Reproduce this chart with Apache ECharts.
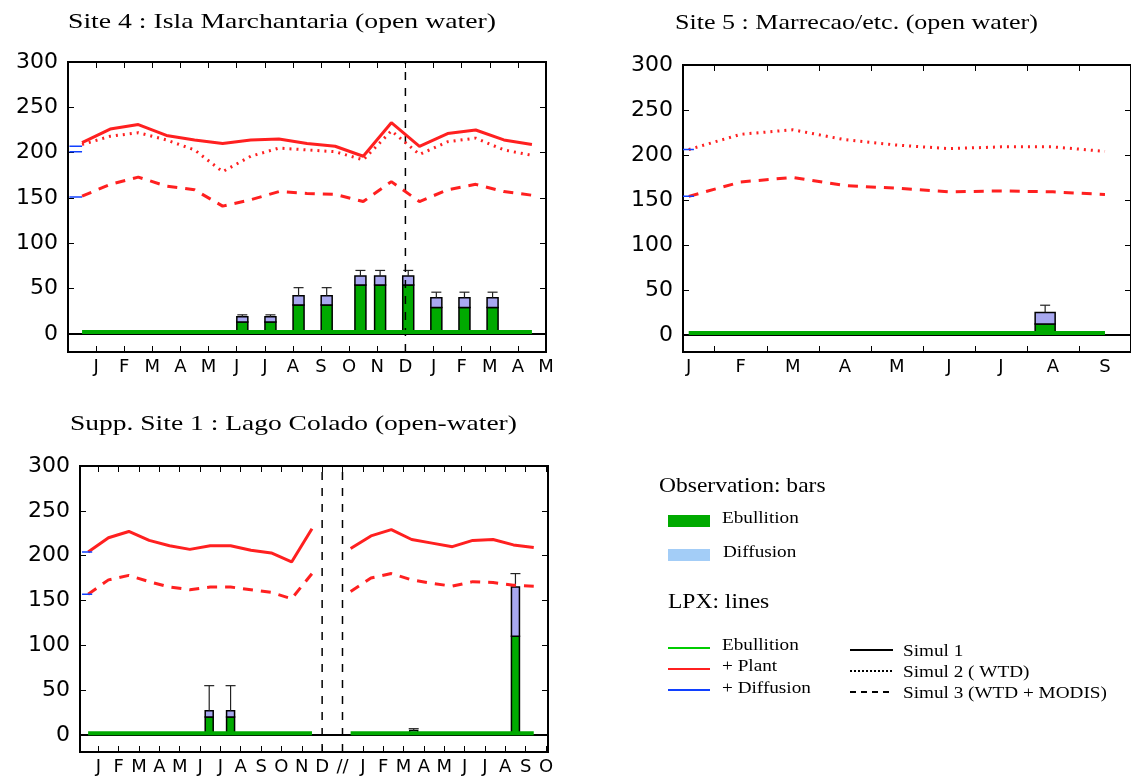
<!DOCTYPE html>
<html lang="en">
<head>
<meta charset="UTF-8">
<title>LPX sites</title>
<script src="https://cdn.jsdelivr.net/npm/echarts@6/dist/echarts.min.js"></script>
<style>html,body{margin:0;padding:0;background:#fff}#main{width:1131px;height:778px}</style>
</head>
<body>
<div id="main"></div>
<script>
// ---- Site 4 ----
var s4Labels = ['J','F','M','A','M','J','J','A','S','O','N','D','J','F','M','A','M'];
var s4X = [0.5,1.5,2.5,3.5,4.5,5.5,6.5,7.5,8.5,9.5,10.5,11.5,12.5,13.5,14.5,15.5,16.5];
var s4Sim1 = [211,226,231,219,214,210,214,215,210,207,196,233,207,221,225,214,209];
var s4Sim2 = [209,218,222,214,203,179,196,205,203,201,192,224,198,212,216,203,197];
var s4Sim3 = [152,165,173,163,159,141,148,157,155,154,146,168,146,159,165,157,153];
var s4BarX = [4.2,5.2,6.2,7.2,8.2,9.2,10.4,11.1,12.1,13.1,14.1,15.1];
var s4Ebul = [1,1,13,13,32,32,54,54,54,29,29,29];
var s4Total = [2,2,19,19,42,42,64,64,64,40,40,40];
var s4Err = [2,2,21,21,51,51,70,70,70,46,46,46];
// ---- Site 5 ----
var s5Labels = ['J','F','M','A','M','J','J','A','S'];
var s5X = [0.5,1.5,2.5,3.5,4.5,5.5,6.5,7.5,8.5];
var s5Sim2 = [206,223,228,217,211,207,209,209,204];
var s5Sim3 = [154,170,175,166,163,159,160,159,156];
var s5BarX = [7.35];
var s5Ebul = [12];
var s5Total = [25];
var s5Err = [33];
// ---- Supp site 1 ----
var sbLabels = ['J','F','M','A','M','J','J','A','S','O','N','D','//','J','F','M','A','M','J','J','A','S','O'];
var sbXa = [-0.5,0.5,1.5,2.5,3.5,4.5,5.5,6.5,7.5,8.5,9.5,10.5];
var sbSim1a = [204,220,227,217,211,207,211,211,206,203,193,230];
var sbSim3a = [157,173,178,171,165,162,165,165,162,159,152,180];
var sbXb = [12.4,13.4,14.4,15.4,16.4,17.4,18.4,19.4,20.4,21.4];
var sbSim1b = [208,222,229,218,214,210,217,218,212,209];
var sbSim3b = [160,175,180,173,169,166,171,170,167,166];
var sbBarX = [5.45,6.5,15.5,20.5];
var sbEbul = [20,20,2,110];
var sbTotal = [27,27,5,165];
var sbErr = [55,55,7,180];
var yTicks = [0,50,100,150,200,250,300];

var RED = '#ff2020', GREEN = '#00aa00', BLUE = '#1040ff';
var chart = echarts.init(document.getElementById('main'));

function pairs(xs, ys) { return xs.map(function (x, i) { return [x, ys[i]]; }); }

function barSeries(gi, xs, eb, tot, err, w) {
    var data = xs.map(function (x, i) { return [x, eb[i], tot[i], err[i]]; });
    return {
        type: 'custom', xAxisIndex: gi, yAxisIndex: gi, data: data, z: 3,
        renderItem: function (params, api) {
            var x = api.value(0);
            var p0 = api.coord([x, 0]), p1 = api.coord([x, api.value(1)]),
                p2 = api.coord([x, api.value(2)]), p3 = api.coord([x, api.value(3)]);
            var h = w / 2;
            return { type: 'group', children: [
                { type: 'rect', shape: { x: p0[0] - h, y: p1[1], width: w, height: p0[1] - p1[1] },
                  style: { fill: GREEN, stroke: '#000', lineWidth: 1.5 } },
                { type: 'rect', shape: { x: p0[0] - h, y: p2[1], width: w, height: p1[1] - p2[1] },
                  style: { fill: '#a8a8f0', stroke: '#000', lineWidth: 1.5 } },
                { type: 'line', shape: { x1: p0[0], y1: p2[1], x2: p0[0], y2: p3[1] },
                  style: { stroke: '#222', lineWidth: 1.2 } },
                { type: 'line', shape: { x1: p0[0] - 5, y1: p3[1], x2: p0[0] + 5, y2: p3[1] },
                  style: { stroke: '#222', lineWidth: 1.2 } }
            ] };
        }
    };
}
function line(gi, data, color, type, w) {
    return { type: 'line', xAxisIndex: gi, yAxisIndex: gi, data: data, symbol: 'none', z: 4,
        lineStyle: { color: color, width: w || 3, type: type || 'solid' } };
}
function yAxis(gi, min, pos) {
    return { type: 'value', gridIndex: gi, min: min, max: 300, position: pos || 'left',
        axisLine: { show: false, onZero: false }, splitLine: { show: false },
        axisTick: { show: true, inside: true, length: 6, customValues: yTicks, lineStyle: { color: '#000' } },
        axisLabel: { show: !pos, customValues: yTicks, fontFamily: 'DejaVu Sans', fontSize: 22, color: '#000', margin: 10 } };
}
function xAxis(gi, min, max, ticks, labelPos, labels, pos) {
    return { type: 'value', gridIndex: gi, min: min, max: max, position: pos || 'bottom',
        splitLine: { show: false },
        axisLine: { show: false, onZero: false },
        axisTick: { show: true, inside: true, length: 6, customValues: ticks, lineStyle: { color: '#000' } },
        axisLabel: { show: !pos, customValues: labelPos, fontFamily: 'DejaVu Sans', fontSize: 18, color: '#000', margin: 6,
            formatter: function (v) { return labels[labelPos.indexOf(v)] || ''; } } };
}
var s4Pos = s4Labels.map(function (l, i) { return i + 1; });
var s5Ticks = [1,2,3,4,5,6,7,8];
var s5Pos = s5Labels.map(function (l, i) { return i + 0.5; });
var sbPos = sbLabels.map(function (l, i) { return i; });

function txt(x, y, t, size, sx) {
    return { type: 'text', x: x, y: y, scaleX: sx, style: { text: t, font: size + 'px "Liberation Serif"', fill: '#000' } };
}

var option = {
    animation: false,
    grid: [
        { left: 68, top: 62, width: 478, height: 290, show: true, borderColor: '#000', borderWidth: 2 },
        { left: 683, top: 65, width: 452, height: 287, show: true, borderColor: '#000', borderWidth: 2 },
        { left: 80, top: 466, width: 468, height: 286, show: true, borderColor: '#000', borderWidth: 2 }
    ],
    xAxis: [
        xAxis(0, 0, 17, s4Pos, s4Pos, s4Labels),
        xAxis(1, 0.39, 9.0, s5Ticks, s5Pos, s5Labels),
        xAxis(2, -0.9, 22.1, sbPos, sbPos, sbLabels),
        xAxis(0, 0, 17, s4Pos, s4Pos, s4Labels, 'top'),
        xAxis(1, 0.39, 9.0, s5Ticks, s5Pos, s5Labels, 'top'),
        xAxis(2, -0.9, 22.1, sbPos, sbPos, sbLabels, 'top')
    ],
    yAxis: [yAxis(0, -20), yAxis(1, -19), yAxis(2, -19),
            yAxis(0, -20, 'right'), yAxis(1, -19, 'right'), yAxis(2, -19, 'right')],
    graphic: [
        txt(68, 12, 'Site 4 : Isla Marchantaria (open water)', 21, 1.32),
        txt(675, 13, 'Site 5 : Marrecao/etc. (open water)', 21, 1.24),
        txt(70, 414, 'Supp. Site 1 : Lago Colado (open-water)', 21, 1.31),
        txt(659, 476, 'Observation: bars', 21, 1.12),
        { type: 'rect', shape: { x: 668, y: 515, width: 42, height: 12 }, style: { fill: GREEN } },
        txt(722, 511, 'Ebullition', 16, 1.2),
        { type: 'rect', shape: { x: 668, y: 549, width: 42, height: 12 }, style: { fill: '#a3cdf7' } },
        txt(723, 545, 'Diffusion', 16, 1.2),
        txt(668, 592, 'LPX: lines', 21, 1.12),
        { type: 'line', shape: { x1: 668, y1: 648, x2: 710, y2: 648 }, style: { stroke: '#00cc00', lineWidth: 2 } },
        txt(722, 638, 'Ebullition', 16, 1.2),
        { type: 'line', shape: { x1: 668, y1: 669, x2: 710, y2: 669 }, style: { stroke: RED, lineWidth: 2 } },
        txt(722, 659, '+ Plant', 16, 1.2),
        { type: 'line', shape: { x1: 668, y1: 690, x2: 710, y2: 690 }, style: { stroke: BLUE, lineWidth: 2 } },
        txt(722, 681, '+ Diffusion', 16, 1.2),
        { type: 'line', shape: { x1: 850, y1: 650, x2: 893, y2: 650 }, style: { stroke: '#000', lineWidth: 2 } },
        txt(903, 644, 'Simul 1', 16, 1.2),
        { type: 'line', shape: { x1: 850, y1: 671, x2: 893, y2: 671 }, style: { stroke: '#000', lineWidth: 2, lineDash: [2, 2] } },
        txt(903, 665, 'Simul 2 ( WTD)', 16, 1.2),
        { type: 'line', shape: { x1: 850, y1: 692, x2: 893, y2: 692 }, style: { stroke: '#000', lineWidth: 2, lineDash: [6, 5] } },
        txt(903, 686, 'Simul 3 (WTD + MODIS)', 16, 1.2)
    ],
    series: [
        // Site 4
        line(0, [[0, 0], [17, 0]], '#000', 'solid', 2),
        line(0, [[12, -20], [12, 300]], '#000', [8, 8], 1.5),
        barSeries(0, s4BarX, s4Ebul, s4Total, s4Err, 11),
        line(0, pairs(s4X, s4Sim1), RED),
        line(0, pairs(s4X, s4Sim2), RED, [2, 5]),
        line(0, pairs(s4X, s4Sim3), RED, [10, 8]),
        line(0, [[0.5, 2], [16.5, 2]], GREEN, 'solid', 4),
        line(0, [[0.05, 207], [0.5, 207]], BLUE, 'solid', 1.5),
        line(0, [[0.05, 201], [0.5, 201]], BLUE, 'solid', 1.5),
        line(0, [[0.05, 151], [0.5, 151]], BLUE, 'solid', 1.5),
        // Site 5
        line(1, [[0.39, 0], [9, 0]], '#000', 'solid', 2),
        barSeries(1, s5BarX, s5Ebul, s5Total, s5Err, 20),
        line(1, pairs(s5X, s5Sim2), RED, [2, 5]),
        line(1, pairs(s5X, s5Sim3), RED, [10, 8]),
        line(1, [[0.5, 2], [8.5, 2]], GREEN, 'solid', 4),
        line(1, [[0.39, 206], [0.6, 206]], BLUE, 'solid', 1.5),
        line(1, [[0.39, 154], [0.6, 154]], BLUE, 'solid', 1.5),
        // Supp site 1
        line(2, [[-0.9, 0], [22.1, 0]], '#000', 'solid', 2),
        line(2, [[11, -19], [11, 300]], '#000', [8, 8], 1.5),
        line(2, [[12, -19], [12, 300]], '#000', [8, 8], 1.5),
        barSeries(2, sbBarX, sbEbul, sbTotal, sbErr, 8),
        line(2, pairs(sbXa, sbSim1a), RED),
        line(2, pairs(sbXa, sbSim3a), RED, [10, 8]),
        line(2, pairs(sbXb, sbSim1b), RED),
        line(2, pairs(sbXb, sbSim3b), RED, [10, 8]),
        line(2, [[-0.5, 2], [10.5, 2]], GREEN, 'solid', 4),
        line(2, [[12.4, 2], [21.4, 2]], GREEN, 'solid', 4),
        line(2, [[-0.8, 204], [-0.3, 204]], BLUE, 'solid', 1.5),
        line(2, [[-0.8, 157], [-0.3, 157]], BLUE, 'solid', 1.5)
    ]
};
chart.setOption(option);
</script>
</body>
</html>
